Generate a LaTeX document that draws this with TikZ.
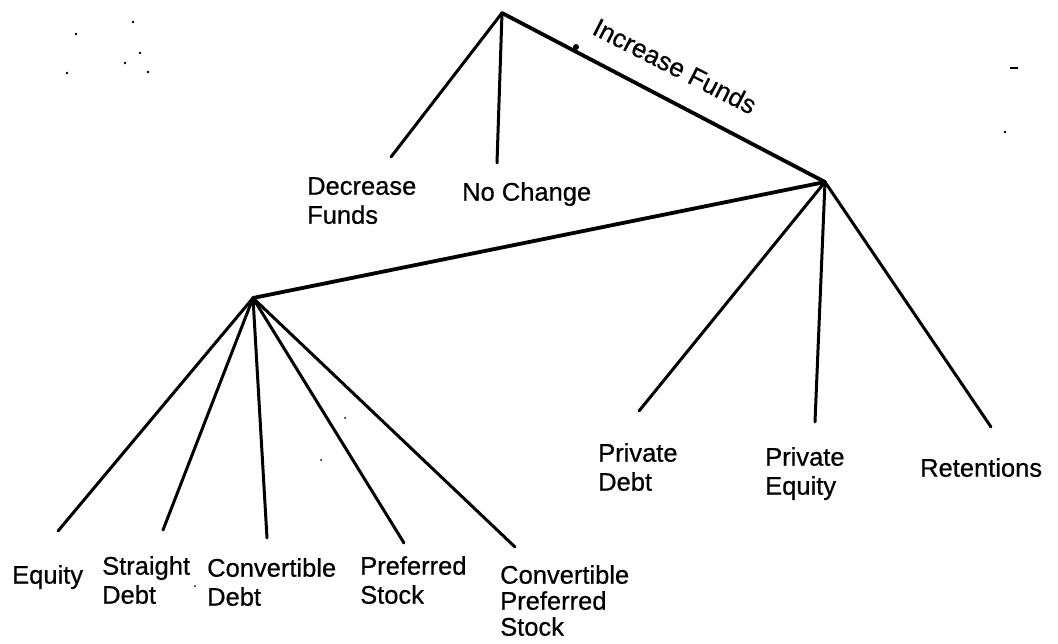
\documentclass[tikz,border=0pt]{standalone}
\usepackage{fontspec}
\setmainfont{Liberation Sans}[FakeBold=0.6]
\begin{document}
\begin{tikzpicture}[x=1pt,y=-1pt,
  branch/.style={line width=3pt, line cap=round, line join=round},
  trunk/.style={line width=3.8pt, line cap=round},
  lbl/.style={inner sep=0pt, anchor=north west, align=left, font=\fontsize{25.5}{29}\selectfont},
  speck/.style={circle, fill=black, inner sep=0pt, minimum size=2.6pt}]
\useasboundingbox (0,0) rectangle (1058,644);
% branch points
\coordinate (T) at (502,13);
\coordinate (R) at (825,182);
\coordinate (L) at (253,298);
% branch ends
\coordinate (dec) at (391,157);
\coordinate (noch) at (497,163);
\coordinate (pdebt) at (639,411);
\coordinate (peq) at (815,422);
\coordinate (ret) at (991,427);
\coordinate (eq) at (58,531);
\coordinate (sd) at (163,530);
\coordinate (cd) at (267,538);
\coordinate (ps) at (404,543);
\coordinate (cps) at (515,547);
% connectors
\draw[branch] (T) -- (dec);
\draw[branch] (T) -- (noch);
\draw[trunk] (T) -- (R);
\draw[trunk] (R) -- (L);
\draw[branch] (R) -- (pdebt);
\draw[branch] (R) -- (peq);
\draw[branch] (R) -- (ret);
\draw[branch] (L) -- (eq);
\draw[branch] (L) -- (sd);
\draw[branch] (L) -- (cd);
\draw[branch] (L) -- (ps);
\draw[branch] (L) -- (cps);
\node[speck, minimum size=6pt] (blob) at (576,47) {};
% labels
\node[lbl, rotate=-27, anchor=center, font=\fontsize{26}{29}\selectfont] (inc) at (675,66) {Increase Funds};
\node[lbl] (ldec) at (307,177) {Decrease\\Funds};
\node[lbl] (lnoch) at (462,182) {No Change};
\node[lbl] (lpdebt) at (598,443) {Private\\Debt};
\node[lbl] (lpeq) at (765,447) {Private\\Equity};
\node[lbl] (lret) at (920,458) {Retentions};
\node[lbl] (leq) at (12,565) {Equity};
\node[lbl] (lsd) at (102,556) {Straight\\Debt};
\node[lbl] (lcd) at (207,558) {Convertible\\Debt};
\node[lbl] (lps) at (360,556) {Preferred\\Stock};
\node[lbl, font=\fontsize{25.5}{26}\selectfont] (lcps) at (500,565) {Convertible\\Preferred\\Stock};
% scan specks
\node[speck] (s1) at (133,22) {};
\node[speck] (s2) at (76,34) {};
\node[speck] (s3) at (140,53) {};
\node[speck] (s4) at (125,63) {};
\node[speck] (s5) at (148,72) {};
\node[speck] (s6) at (67,73) {};
\node[speck] (s7) at (1005,132) {};
\node[speck, minimum size=2pt] (s8) at (345,418) {};
\node[speck, minimum size=2pt] (s9) at (321,460) {};
\node[speck, minimum size=2pt] (s10) at (195,586) {};
\draw[line width=2pt] (1010,68) -- (1018,68);
\end{tikzpicture}
\end{document}
